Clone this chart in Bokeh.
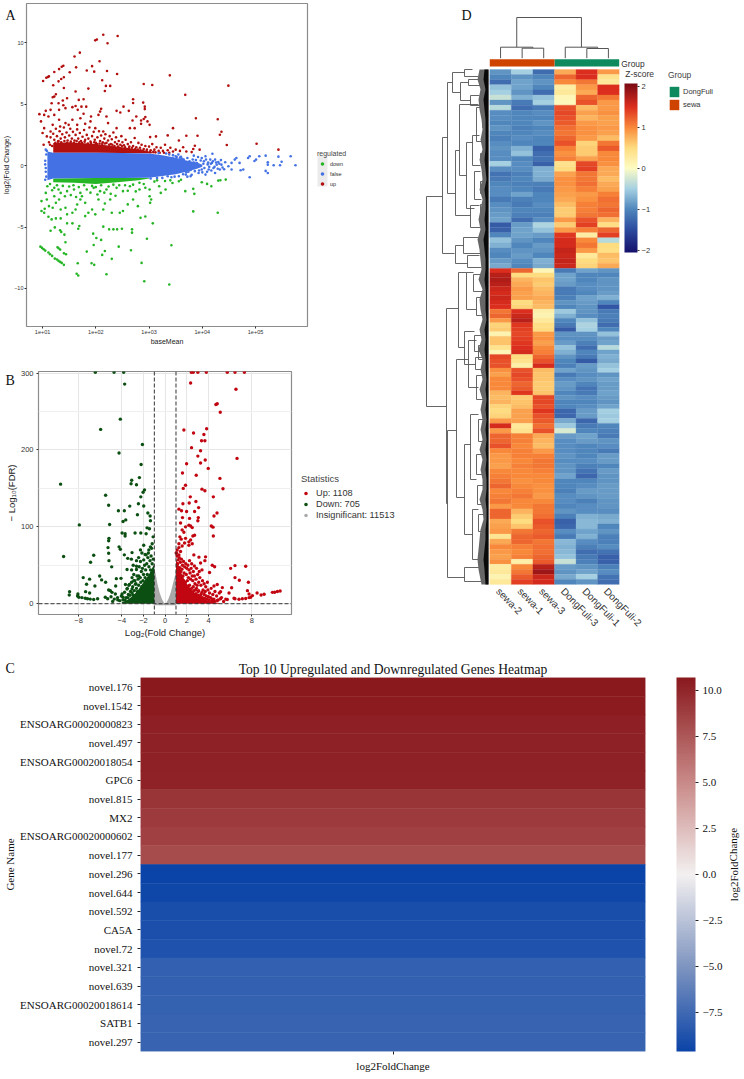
from bokeh.plotting import figure
from bokeh.layouts import column, row
from bokeh.embed import file_html
from bokeh.resources import INLINE
from bokeh.core.properties import value
from bokeh.models import (Range1d, FactorRange, FixedTicker, Legend, LegendItem, Span, Label, ColorBar,
                          LinearColorMapper, BoxAnnotation, ColumnDataSource)
from bokeh.transform import transform

# ---------- Panel A: MA plot (log10 baseMean, log2 fold change) ----------
ma_up = [(2.14,10.66),(2.02,10.27),(1.99,10.2),(2.41,10.55),(2.22,9.96),(1.70,9.2),(1.60,8.89),(2.07,8.5),(1.93,8.1),(1.83,7.75),(1.97,7.65),(2.21,7.7),(1.51,7.6),(1.63,8.0),(1.39,8.13),(1.31,7.86),(1.22,7.62),(1.36,8.05),(1.01,6.89),(1.07,7.16),(1.10,7.22),(1.12,7.27),(1.2,6.54),(1.30,6.86),(1.35,7.05),(1.40,7.2),(2.40,7.46),(3.39,7.35),(4.49,6.51),(1.86,6.27),(1.40,6.32),(1.62,6.03),(2.12,6.95),(2.19,6.49),(2.27,6.49),(2.17,6.08),(2.90,6.65),(3.06,6.57),(3.68,5.76),(1.25,5.81),(1.22,5.62),(1.19,5.57),(1.46,5.49),(1.38,5.3),(1.30,5.08),(1.39,4.92),(1.17,5.08),(1.06,4.46),(1.15,4.54),(1.68,5.35),(1.77,5.4),(1.62,4.86),(1.73,4.8),(1.82,4.8),(2.10,4.62),(2.08,4.4),(2.39,4.46),(2.46,4.32),(2.52,4.8),(2.62,4.46),(2.70,5.4),(2.70,5.1),(2.89,5.13),(2.92,4.8),(2.92,4.6),(2.69,3.67),(2.76,4.0),(2.85,3.67),(2.90,3.8),(2.93,3.95),(2.97,3.6),(3.01,3.32),(2.85,3.4),(3.88,3.86),(4.29,3.78),(0.94,4.19),(0.97,3.6),(1.03,4.13),(1.11,4.0),(1.22,4.13),(1.31,4.54),(1.43,4.68),(1.56,4.76),(1.66,4.54),(1.77,4.22),(1.91,4.0),(2.05,4.13),(2.2,4.0),(1.9,3.6),(1.8,3.4),(1.71,3.86),(1.56,3.73),(1.43,3.46),(1.31,3.73),(1.19,3.32),(1.03,3.05),(1.0,2.65),(1.08,2.38),(1.02,1.7),(1.15,2.78),(1.33,3.19),(1.49,3.32),(1.65,3.32),(1.99,3.05),(2.14,2.78),(2.23,3.46),(2.39,3.05),(2.64,3.05),(2.73,3.05),(3.45,3.05),(4.36,2.76),(4.33,2.51),(3.70,2.43),(3.91,2.43),(3.35,2.46),(5.02,1.78),(5.43,1.3),(4.46,1.68),(3.86,1.62),(3.83,1.35),(3.56,2.05),(3.02,2.32),(3.13,2.38),
(1.12,1.9),(1.15,2.3),(1.18,1.6),(1.2,2.6),(1.22,2.1),(1.25,3.0),(1.27,2.4),(1.3,2.0),(1.32,2.8),(1.34,2.2),(1.37,2.55),(1.4,3.1),(1.42,2.3),(1.45,2.7),(1.47,2.05),(1.5,2.45),(1.52,3.0),(1.55,2.2),(1.57,2.75),(1.6,2.05),(1.62,2.5),(1.65,2.95),(1.67,2.2),(1.7,2.65),(1.72,2.0),(1.75,2.35),(1.78,2.9),(1.8,2.1),(1.83,2.5),(1.86,2.2),(1.88,3.1),(1.9,1.95),(1.93,2.4),(1.96,2.75),(1.98,2.1),(2.0,1.85),(2.03,2.3),(2.06,2.8),(2.08,2.0),(2.1,2.45),(2.13,1.9),(2.16,2.2),(2.18,2.55),(2.2,1.85),(2.23,2.05),(2.26,2.4),(2.28,1.75),(2.3,2.15),(2.33,2.7),(2.36,1.9),(2.38,2.3),(2.4,1.75),(2.43,2.0),(2.46,1.7),(2.48,2.4),(2.5,1.9),(2.53,1.65),(2.56,2.1),(2.6,1.75),(2.63,1.55),(2.66,1.9),(2.7,1.6),(2.73,2.25),(2.76,1.5),(2.8,1.85),(2.83,1.45),(2.86,1.7),(2.9,1.35),(2.93,1.6),(2.96,1.3),(3.0,1.55),(3.03,1.25),(3.06,1.75),(3.1,1.3),(3.14,1.5),(3.18,1.2),(3.22,1.45),(3.26,1.2),(3.3,1.7),(3.35,1.25),(3.4,1.45),(3.45,1.15),(3.5,1.3),(3.58,1.2),(3.64,1.5),(3.7,1.15),(3.8,1.1),(3.95,1.3),
(1.14,1.7),(1.24,1.85),(1.29,1.95),(1.35,1.9),(1.41,2.0),(1.46,1.85),(1.53,1.95),(1.59,1.85),(1.64,2.0),(1.69,1.9),(1.74,1.85),(1.79,1.95),(1.85,1.8),(1.91,1.85),(1.97,1.9),(2.02,1.75),(2.07,1.8),(2.12,1.75),(2.17,1.8),(2.25,1.7),(2.31,1.7),(2.35,1.6),(2.42,1.55),(2.49,1.6),(2.55,1.5),(2.62,1.4),(2.68,1.45),(2.74,1.35),(2.79,1.3),(2.84,1.25),(2.88,1.2),(2.95,1.15),(3.02,1.1),(3.08,1.12),(3.12,1.08),(3.2,1.05),(3.28,1.05),(3.38,1.05)]
ma_down = [(0.96,-6.6),(0.99,-6.7),(1.02,-6.81),(1.05,-6.92),(1.11,-7.08),(1.14,-7.22),(1.18,-7.35),(1.23,-7.57),(1.27,-7.65),(1.3,-7.76),(1.33,-7.84),(1.36,-7.92),(1.40,-8.08),(1.28,-6.65),(1.3,-6.73),(1.33,-6.84),(1.40,-7.14),(1.44,-7.22),(1.43,-6.24),(1.66,-7.95),(1.64,-8.81),(1.67,-8.95),(1.83,-7.0),(1.92,-7.95),(1.97,-8.08),(1.96,-6.46),(2.01,-5.89),(2.1,-6.05),(1.95,-5.54),(2.17,-6.95),(2.12,-7.27),(2.3,-7.59),(2.2,-8.84),(2.43,-6.6),(2.66,-6.89),(2.86,-7.92),(2.91,-9.41),(3.38,-9.68),(3.42,-6.49),(2.96,-5.95),(3.07,-4.7),(2.68,-5.19),(2.68,-5.46),(2.49,-5.14),(2.4,-5.19),(2.33,-5.19),(2.25,-5.19),(2.14,-4.97),(1.67,-5.14),(1.69,-4.92),(1.56,-4.7),(1.46,-4.7),(1.33,-5.27),(1.35,-5.4),(1.41,-5.62),(1.23,-5.03),(1.15,-5.3),(1.11,-4.16),(1.17,-4.38),(1.25,-4.3),(1.34,-4.3),(3.83,-3.73),(4.29,-3.84),(2.84,-4.24),(2.93,-4.14),(3.83,-1.89),(3.85,-2.3),(3.68,-2.08),(4.17,-1.68),(4.3,-1.22),(4.34,-1.19),(4.44,-1.14),(3.99,-1.35),(4.09,-1.49),
(0.98,-2.89),(0.98,-3.7),(1.03,-3.84),(1.04,-3.51),(1.06,-2.22),(1.08,-2.76),(1.12,-3.3),(1.19,-3.43),(1.25,-3.03),(1.22,-2.49),(1.31,-2.76),(1.34,-3.57),(1.43,-3.43),(1.46,-3.97),(1.56,-3.84),(1.62,-3.57),(1.65,-3.16),(1.71,-2.76),(1.8,-3.03),(1.86,-3.84),(1.8,-4.11),(1.93,-3.57),(1.99,-3.97),(2.05,-2.76),(2.14,-3.57),(2.17,-3.08),(2.27,-2.76),(2.3,-3.84),(2.45,-3.84),(2.51,-3.7),(2.6,-3.16),(2.7,-2.76),(2.79,-3.3),(3.01,-2.49),(3.04,-2.76),(3.02,-3.03),(3.31,-1.95),(3.22,-2.22),(3.44,-1.41),(3.56,-1.27),(3.19,-1.68),(3.01,-1.95),(2.82,-1.95),(2.82,-1.4),(2.64,-1.68),(2.51,-2.08),(2.39,-1.81),(2.2,-1.95),(2.08,-2.08),(1.96,-1.81),(1.83,-1.95),(1.71,-2.22),(1.59,-1.95),(1.46,-2.08),(1.34,-2.22),(1.22,-1.81),(1.09,-1.68),
(1.14,-1.5),(1.18,-2.0),(1.27,-1.6),(1.3,-1.95),(1.38,-1.65),(1.42,-2.5),(1.5,-1.7),(1.53,-2.4),(1.58,-1.6),(1.63,-2.55),(1.68,-1.75),(1.74,-2.5),(1.78,-1.6),(1.9,-2.2),(1.93,-1.65),(2.0,-1.75),(2.03,-2.35),(2.1,-1.6),(2.16,-2.2),(2.24,-1.7),(2.28,-2.3),(2.33,-1.55),(2.37,-2.45),(2.44,-1.6),(2.55,-1.6),(2.6,-2.05),(2.7,-1.55),(2.75,-2.1),(2.9,-1.5),(2.93,-1.8),(3.1,-1.3),(3.15,-1.2),(3.3,-1.25),(3.4,-1.2),(3.6,-1.15)]
ma_false = [(5.75,0.03),(5.66,0.76),(5.49,0.32),(5.46,0.03),(5.43,0.73),(5.34,0.03),(5.23,0.27),(5.23,0.08),(5.19,0.81),(5.23,-0.6),(5.19,-0.43),(5.07,0.76),(5.01,0.49),(4.98,0.38),(4.89,0.76),(4.86,0.62),(4.89,-0.95),(4.77,-0.32),(4.72,-0.38),(4.7,0.22),(4.64,0.62),(4.55,0.22),(4.49,-0.05),(4.43,0.27),(4.36,0.08),(4.55,-0.32),(4.61,0.49),(4.33,-0.32),(4.24,0.49),(4.19,0.97),(4.15,0.49),(4.06,0.76),(3.99,0.62),(3.84,0.81),(3.93,-0.6),(4.06,-0.73),(4.24,-0.6),(4.18,0.22),(4.27,0.08),(4.12,-0.32),(3.99,-0.32),(3.72,0.62),(3.65,0.49),(3.78,-0.86),(3.56,-0.86),(3.69,-0.73),(3.5,0.76),(3.44,0.62),(3.35,-0.86),(3.25,-1.0),
(4.3,0.3),(4.38,-0.15),(4.21,-0.2),(4.1,0.1),(4.03,0.35),(3.92,0.7),(3.88,0.45),(3.8,-0.75),(3.72,-0.9),(3.6,0.72),(3.55,0.9),(3.45,0.85),(3.32,0.98),(3.18,1.02),(3.15,-1.0),(3.03,-1.05),(1.06,1.3),(1.07,0.9),(1.05,0.4),(1.06,-0.5),(1.05,-1.15),(1.07,-0.9),(1.08,1.2),(1.06,-0.2),(1.05,0.1),
(3.62,0.55),(3.68,0.3),(3.74,-0.5),(3.76,0.35),(3.82,0.5),(3.86,-0.45),(3.9,0.2),(3.94,-0.4),(3.97,0.42),(4.0,-0.55),(4.02,0.15),(4.04,-0.2),(4.07,0.5),(4.09,-0.5),(4.11,0.25),(4.13,-0.1),(4.16,0.15),(4.17,-0.4),(4.2,0.35),(4.23,-0.1),(4.26,0.25),(4.29,-0.25),(4.32,0.15),(4.35,0.45),(4.41,-0.3),(3.7,-0.55),(3.78,-0.35),(3.84,0.25),(3.64,-0.7),(3.58,0.65),(3.52,0.7),(3.48,-0.9),(3.42,-0.95),(3.38,0.9)]
ma_false_band_x = [1.09,1.2,1.5,2,2.5,3,3.25,3.5,3.7,3.9,4.0]
ma_false_band_top = [1.15,1.05,1.05,1.05,1.03,0.98,0.85,0.65,0.42,0.25,0.08]
ma_false_band_bot = [-1.2,-1.05,-1.03,-1.0,-1.0,-0.98,-0.85,-0.7,-0.5,-0.25,-0.1]
ma_up_band_x = [1.2,1.5,2,2.5,2.9,3.1]
ma_up_band_top = [1.85,1.9,1.75,1.5,1.25,1.05]
ma_up_band_bot = [1.05,1.05,1.05,1.03,1.0,1.0]
ma_down_band_x = [1.2,1.6,2.0,2.4,2.8,3.0]
ma_down_band_top = [-1.05,-1.03,-1.0,-1.0,-1.0,-1.0]
ma_down_band_bot = [-1.35,-1.4,-1.5,-1.35,-1.2,-1.05]
ma_x_ticks = [10,100,1000,10000,100000]
ma_x_labels = ["1e+01","1e+02","1e+03","1e+04","1e+05"]
ma_y_ticks = [-10,-5,0,5,10]

# ---------- Panel B: volcano (log2 fold change, -log10 FDR) ----------
vol_up = [(2.41,301),(2.59,301),(3.02,301),(3.8,301),(5.74,301),(6.45,301),(7.32,301),(2.35,287),(6.54,279),(4.69,259),(4.81,260),(5.09,249),(1.73,226),(3.83,227.5),(2.62,222),(3.58,220),(3.36,212),(3.67,212),(2.44,203),(3.27,199),(3.02,192),(6.64,189),(3.7,187),(3.27,183),(1.98,182),(3.98,176),(1.6,170),(2.87,167),(5.06,163),(1.88,154),(1.67,150),(3.4,149),(3.67,147),(5.34,149.6),(2.32,139),(4.45,139),(2.84,133),(1.64,130),(2.22,131),(3.09,125),(1.27,123),(1.51,121),(1.98,120),(2.72,120),(4.79,118),(4.51,114),(1.6,112),(2.25,111),(3.06,112),(3.02,108),(1.42,105),(4.26,101),(4.42,99.6),(4.45,88),(2.19,102),(2.35,101),(2.5,99),(1.88,100),(1.57,96),(1.73,93),(2.72,89),(2.56,88),(1.36,87),(1.48,84),(1.88,85),(2.35,83),(2.19,80.5),(1.79,79),(1.27,78),(1.57,75),(1.27,73),(2.19,76),(2.5,78),(1.11,70),(1.42,68),(1.02,66),(1.27,63.5),(2.65,63.5),(3.12,60.6),(3.73,61),(3.67,56),(3.27,53),(4.35,50),(4.57,48),(6.05,46),(6.45,49.6),(7.44,48.7),(4.1,40.7),(6.45,34),(6.85,30.5),(7.69,28),(4.81,25),(4.51,23),(5.28,21),(6.14,20.8),(5.12,15.7),(5.9,14),(7.6,17),(7.75,12.7),(10.62,16.5),(10.37,16),(10.12,15),(9.91,14.8),(9.14,12.3),(8.86,11.4),(8.49,14),(8.06,10.6),(7.9,8.5),(7.75,8),(7.44,6.8),(7.13,6.4),(6.82,5.9),(6.45,6.4),(6.36,7.2),(5.74,5.5),(5.12,6.4),(4.81,4.2),(4.5,4.2),
(1.1,62),(1.2,57),(1.3,60),(1.15,52),(1.4,54),(1.5,58),(1.6,50),(1.7,55),(1.35,47),(1.55,45),(1.8,48),(1.9,52),(2.0,46),(2.1,50),(1.75,40),(1.95,38),(2.2,44),(2.3,40),(2.4,46),(2.5,36),(2.6,42),(2.15,34),(2.35,32),(2.55,30),(2.7,36),(2.85,32),(3.0,38),(3.1,28),(3.2,34),(2.75,26),(2.95,24),(3.3,24),(3.45,30),(3.6,26),(3.75,22),(3.9,28),(3.5,18),(3.7,16),(3.95,18),(4.1,14),(4.25,20),(4.4,12),(4.6,16),(4.2,8),(4.5,6),(4.75,10),(4.9,5),(5.0,14),(5.2,8),(5.4,3),(5.6,6),(3.3,12),(3.05,16),(2.8,18),(2.6,22),(1.05,66),(2.9,46),(3.15,42),(3.4,44),(2.25,56),(2.45,52),(2.7,49),
(1.45,42),(1.65,36),(1.85,28),(2.05,30),(2.25,24),(2.45,20),(2.65,17),(2.85,13),(3.05,11),(3.25,9),(3.45,8),(3.65,7),(3.85,6),(4.05,5),(4.3,4),(4.55,3),(1.5,34),(1.7,30),(1.9,24),(2.1,22),(2.3,18),(2.5,15),(2.7,12),(2.9,20),(3.1,17),(3.4,15),(3.6,12),(3.8,10),(4.0,9),(4.35,6)]
vol_down = [(-9.66,155.5),(-9.38,61.4),(-7.93,102.5),(-5.96,226.7),(-4.14,240),(-4.26,196),(-3.74,285.6),(-6.45,301),(-4.72,301),(-3.83,301),(-2.1,207),(-2.22,181),(-3.09,160.6),(-3.15,156),(-2.38,164),(-2.65,154.7),(-1.91,148),(-2.04,145),(-2.25,139),(-5.5,141),(-5.22,128),(-3.27,127),(-2.47,130),(-1.98,127),(-4.32,121),(-3.77,121),(-1.6,118),(-1.39,114),(-2.56,115.7),(-1.36,108),(-3.64,109),(-3.89,107),(-5.13,103),(-3.98,92),(-3.7,91),(-3.7,88),(-2.78,92),(-2.25,92),(-1.76,91),(-1.67,98.7),(-1.45,97.5),(-5.19,85),(-5.22,82),(-5.28,73),(-5.22,65.7),(-4.26,74),(-4.14,70.8),(-3.77,63.6),(-3.46,59),(-3.06,66.5),(-3.12,58),(-6.6,63),(-6.89,54),(-4.94,48),(-5.19,56),(-7.57,34),(-6.98,32),(-7.26,25.4),(-6.49,23),(-6.05,36),(-5.87,31),(-5.5,28),(-4.51,32.6),(-4.08,33),(-4.57,23),(-5.22,17.8),(-8.83,15.7),(-8.86,11.4),(-8.06,12.7),(-8.09,10),(-7.97,8.5),(-7.69,8),(-7.38,7.2),(-7.17,6.4),(-6.92,6),(-6.6,5.5),(-6.24,6.4),(-7.35,15.7),(-6.98,14),(-5.53,8.5),(-5.31,6.4),(-5.06,17),(-4.91,14.8),(-4.6,12.7),(-3.98,12.7),(-4.38,5),(-3.89,8.5),(-3.36,24),(-2.9,30),(-2.44,36),(-2.65,44.5),(-2.28,55),(-1.98,57),(-1.76,63.6),(-1.51,70),(-1.36,74),(-1.2,78),(-1.11,87),(-1.98,76),(-2.28,70),(-2.65,56),(-2.65,48.7),(-3.52,44.5),(-3.06,34),(-3.67,25),(-3.52,19),(-3.06,19),(-2.75,25.4),
(-1.1,58),(-1.2,52),(-1.3,62),(-1.4,56),(-1.5,48),(-1.6,60),(-1.7,52),(-1.8,44),(-1.9,50),(-2.0,38),(-2.1,46),(-2.2,42),(-2.3,34),(-2.4,48),(-2.5,32),(-2.6,36),(-2.7,26),(-2.8,30),(-2.9,38),(-3.0,22),(-3.1,28),(-3.2,16),(-3.3,25),(-3.4,12),(-3.5,20),(-3.6,8),(-3.75,15),(-3.9,5),(-4.05,10),(-4.2,4),(-4.4,8),(-4.7,6),(-4.85,3),(-5.0,9),(-3.1,44),(-2.95,50),(-2.45,60),(-2.15,66),(-1.85,64),(-1.55,66),(-1.25,72),
(-1.35,44),(-1.65,38),(-1.85,34),(-2.05,30),(-2.25,28),(-2.45,24),(-2.65,20),(-2.85,17),(-3.05,14),(-3.25,11),(-3.45,8),(-3.7,5),(-1.75,30),(-2.15,22),(-2.55,16),(-2.95,11)]
vol_up_band_x = [1,1.3,1.6,2,2.5,3,3.5,4,4.5,5]
vol_up_band_top = [58,48,36,26,17,11,7,4,2,1]
vol_down_band_x = [-4,-3.5,-3,-2.5,-2,-1.5,-1]
vol_down_band_top = [2,5,10,18,28,38,52]
vol_ns_left_x = [-1,-0.9,-0.7,-0.5,-0.3,-0.1,0]
vol_ns_left_top = [46,40,25,14,6,1,0]
vol_ns_right_x = [0,0.1,0.3,0.5,0.7,0.9,1]
vol_ns_right_top = [0,1,6,14,25,36,44]
vol_ns_base = [-2,-2,-2,-2,-2,-2,-2]
vol_fc_cutoffs = [-1,1]
vol_fdr_cutoff = 0
vol_x_ticks = [-8,-4,-2,0,2,4,8]
vol_y_ticks = [0,100,200,300]
vol_y_minor = [50,150,250]

# ---------- Panel C: top genes ----------
genes = ["novel.176","novel.1542","ENSOARG00020000823","novel.497","ENSOARG00020018054","GPC6","novel.815","MX2","ENSOARG00020000602","novel.177","novel.296","novel.644","novel.592","CA5A","novel.72","novel.321","novel.639","ENSOARG00020018614","SATB1","novel.297"]
gene_lfc = [10.7,10.6,10.35,10.3,10.25,10.2,9.3,9.0,8.7,8.1,-9.6,-9.4,-9.0,-8.9,-8.8,-8.0,-7.95,-7.9,-7.85,-7.8]
lfc_ticks = [-7.5,-5.0,-2.5,0.0,2.5,5.0,7.5,10.0]
lfc_labels = ["\u22127.5","\u22125.0","\u22122.5","0.0","2.5","5.0","7.5","10.0"]
lfc_low, lfc_high = -9.6, 10.7

# ---------- Panel D: clustered heatmap, one row per band of genes ----------
samples = ["sewa-2","sewa-1","sewa-3","DongFuli-3","DongFuli-1","DongFuli-2"]
z_upper = [
(-0.9,-0.5,-1.2,0.8,1.5,0.9),(-1.0,-0.9,-1.0,1.2,1.5,0.4),(-1.2,-0.8,-0.9,1.0,1.1,0.3),(-0.6,-0.8,-1.0,0.25,0.9,1.5),(-0.5,-0.9,-1.2,0.3,0.8,1.5),(-0.3,-0.7,-0.6,0.1,1.2,1.1),(-0.9,-1.1,-0.5,0.05,1.3,0.9),
(-0.4,-1.2,-1.1,1.3,0.7,0.9),(-0.95,-1.0,-0.95,1.35,0.85,0.95),(-0.95,-1.0,-1.0,1.3,0.75,0.85),(-1.0,-1.0,-0.9,1.25,0.9,0.85),(-0.9,-1.05,-1.0,1.15,0.95,0.9),(-1.0,-1.0,-0.95,1.1,0.95,0.85),(-1.05,-0.95,-1.0,1.2,0.9,0.7),
(-0.95,-1.0,-1.0,1.3,0.55,1.1),(-0.9,-0.7,-1.3,1.05,0.6,1.25),(-0.95,-0.6,-1.2,0.95,0.6,1.0),(-0.95,-1.0,-1.15,1.05,0.85,1.0),(-0.5,-0.95,-1.3,0.4,1.35,0.95),(-0.95,-0.95,-0.7,0.5,1.4,0.8),(-1.15,-1.05,-0.7,0.85,1.1,0.8),
(-1.1,-1.0,-0.75,0.95,1.1,0.7),(-1.0,-1.05,-1.05,0.95,1.15,0.8),(-0.95,-1.0,-1.1,0.9,1.05,0.85),(-0.95,-0.8,-1.0,0.85,0.9,1.05),(-1.1,-1.05,-1.0,0.8,0.95,1.15),(-0.95,-1.1,-0.95,0.7,1.05,1.1),(-0.9,-1.0,-1.0,0.6,1.05,1.2),
(-0.85,-1.05,-1.05,0.6,1.1,1.15),(-0.8,-1.2,-0.95,0.9,1.3,0.75),(-1.35,-0.85,-0.45,0.6,1.4,0.45),(-1.3,-0.8,-0.6,0.9,1.05,1.2),(-1.0,-0.8,-0.85,1.45,0.25,1.4),(-0.6,-0.9,-1.0,1.55,1.0,-0.4),
(-0.7,-1.0,-0.85,1.55,1.1,0.5),(-0.95,-0.9,-0.9,1.65,0.9,0.45),(-1.0,-0.85,-1.0,1.6,0.3,0.7),(-0.85,-0.95,-0.7,1.65,0.5,0.65),(-0.75,-1.0,-0.75,1.6,0.55,0.8)]
z_middle = [
(1.5,1.2,0.1,-1.1,-0.8,-0.9),(1.7,0.5,0.5,-0.8,-1.0,-1.0),(1.75,0.75,0.65,-0.8,-1.0,-0.9),(1.7,0.8,0.6,-0.85,-0.95,-0.9),(1.6,0.9,0.7,-1.1,-0.95,-0.9),(1.55,0.85,0.75,-1.1,-1.0,-0.85),(1.6,0.85,0.8,-1.05,-0.8,-0.7),(1.55,0.5,0.75,-0.9,-0.85,-1.0),
(1.5,0.55,0.7,-1.0,-0.9,-1.4),(1.1,1.5,0.2,-0.55,-0.9,-1.1),(1.2,1.6,0.15,-0.7,-0.95,-1.05),(0.9,1.7,0.3,-1.0,-0.6,-1.1),(0.55,1.45,0.45,-1.1,-0.45,-1.2),(0.6,1.4,0.5,-1.35,-0.5,-1.0),(0.15,1.35,0.9,-0.9,-0.9,-0.6),(0.65,1.4,0.95,-0.95,-0.95,-0.85),
(0.65,1.45,0.85,-0.85,-1.05,-0.8),(0.4,1.5,1.0,-0.6,-1.2,-0.4),(0.1,1.55,1.05,-0.7,-1.0,-0.8),(1.35,0.5,1.2,-0.9,-1.1,-0.7),(1.3,0.4,1.3,-1.0,-1.35,-0.75),(1.3,0.2,1.55,-1.05,-0.85,-0.6),(0.95,1.3,0.7,-0.8,-0.9,-0.5),(0.85,1.35,0.65,-1.1,-0.95,-0.9),
(1.0,1.3,0.65,-0.95,-0.9,-0.8),(1.0,1.2,0.6,-0.85,-1.0,-0.85),(1.0,1.25,0.6,-0.9,-1.15,-0.85),(0.75,1.45,0.65,-1.0,-1.1,-0.8),(0.7,0.6,1.35,-0.9,-0.95,-0.85),(0.75,0.65,1.35,-1.0,-1.0,-0.9),(0.55,0.7,1.3,-1.0,-0.95,-0.8),(0.5,0.85,1.45,-1.25,-0.85,-0.5)]
z_lower = [
(0.55,0.85,1.3,-1.25,-0.85,-0.55),(0.9,0.85,1.25,-0.75,-1.25,-0.5),(1.55,0.3,1.15,-0.55,-1.1,-1.0),(0.9,0.4,1.3,-0.2,-1.0,-1.05),(1.2,1.05,0.8,-0.85,-0.8,-1.1),(1.2,1.05,0.75,-0.95,-0.85,-0.9),(1.3,1.0,0.7,-0.95,-1.0,-0.95),(1.0,1.05,0.9,-0.95,-1.0,-1.1),
(0.9,1.05,1.05,-0.9,-1.0,-0.85),(0.9,1.0,1.1,-0.95,-0.95,-0.85),(0.85,1.05,1.1,-0.9,-1.05,-1.0),(1.0,1.0,1.05,-0.9,-1.15,-0.85),(1.05,1.0,1.0,-0.8,-1.25,-0.9),(1.1,0.95,1.0,-1.0,-1.0,-0.9),(1.2,1.0,0.95,-1.0,-0.95,-0.85),(1.0,1.05,0.95,-1.05,-0.85,-0.85),
(1.05,1.1,0.9,-0.95,-0.9,-0.85),(1.1,1.0,1.0,-0.95,-1.05,-0.9),(0.9,1.0,1.1,-1.0,-0.95,-0.9),(1.2,0.75,1.1,-0.9,-0.95,-0.95),(1.2,0.6,1.15,-1.05,-0.7,-0.75),(0.8,0.5,1.3,-1.3,-0.65,-0.7),(0.85,0.65,1.25,-1.25,-0.65,-1.0),(0.9,1.1,1.2,-0.95,-0.8,-0.9),
(0.35,1.2,1.25,-1.1,-0.7,-1.05),(0.8,1.2,1.1,-0.65,-0.95,-1.05),(1.0,1.05,1.15,-0.7,-1.05,-0.95),(0.9,1.0,1.15,-0.65,-1.2,-1.15),(0.85,1.05,1.2,-0.6,-1.1,-1.3),(0.95,0.2,1.25,-0.3,-1.05,-1.3),(0.25,1.0,1.7,-0.85,-0.9,-1.05),(0.3,1.1,1.85,-0.9,-0.8,-0.95),(0.15,1.25,1.6,-0.75,-0.5,-1.15),(0.3,1.4,1.55,-1.0,-0.9,-1.2)]
band_rows_upper, band_rows_middle, band_rows_lower = 5.1, 4.53, 5.03
z_ticks = [-2,-1,0,1,2]
# row dendrogram merges: first row, second row, merge height, child heights
row_tree = [(127,337,62,46,42),(68,184,46,41,34),(13,124,41,36,33),(3,23,36,24,28),(0,7,24,16,10),(13,31,28,20,18),(10,16,20,8,6),(26,36,18,9,7),(81,146,33,29,18),(35,106,29,10,22),(73,139,22,16,14),(38,72,12,6,7),(66,96,16,9,8),(102,130,14,8,7),(112,124,8,4,4),(136,158,18,9,8),(135,145,8,4,3),(45,58,6,3,3),(84,92,8,4,3),(176,194,33,25,21),(168,184,25,10,8),(186,198,21,9,7),
(239,434,42,30,41),(203,278,30,22,24),(203,240,22,15,12),(262,295,24,14,13),(205,222,15,7,6),(228,246,12,6,5),(266,282,14,7,6),(288,300,13,6,5),(361,508,41,32,24),(290,428,32,20,24),(271,318,20,12,10),(375,465,24,18,16),(345,410,18,10,12),(440,490,16,10,9),(498,512,24,8,6),(306,330,12,6,5),(276,290,10,5,4),(350,372,10,5,5),(385,405,12,6,6),(445,462,10,5,4),(475,492,9,5,4),(416,435,11,5,6),(500,506,8,4,3),(508,514,6,3,2)]
fringe_rows = [0,10,20,30,40,50,60,70,80,90,100,110,120,130,140,150,160,170,180,190,200,210,220,230,240,250,260,270,280,290,300,310,320,330,340,350,360,370,380,390,400,410,420,430,440,450,460,470,480,490,500,515]
fringe_core = [4,5,3,5,4,3,3,3,3,4,3,2,4,3,3,4,3,5,4,3,3,4,3,3,3,2,4,3,4,3,3,2,3,2,3,2,3,2,3,2,3,2,2,3,2,2,3,3,4,5,4,3]
fringe_outer = [9,11,8,10,9,7,6,8,6,9,7,6,9,6,8,10,8,11,9,8,7,10,6,9,8,6,9,7,10,6,8,6,9,6,8,6,8,6,9,6,8,6,6,9,6,5,8,9,10,11,10,7]
# column dendrogram merges: left column, right column, merge height, child heights
col_tree = [(0.5,2.0,12.3,1.3,11.3),(1.5,2.5,11.3,1.3,1.3),(3.5,5.0,12.3,1.3,11.0),(4.5,5.5,11.0,1.3,1.3),(1.25,4.25,42.0,12.3,12.3)]


def lerp_palette(anchors, n=256):
    lo, hi = anchors[0][0], anchors[-1][0]
    out = []
    for i in range(n):
        v = lo + (hi - lo) * i / (n - 1)
        for (a, ca), (b, cb) in zip(anchors, anchors[1:]):
            if a <= v <= b:
                t = (v - a) / (b - a)
                rgb = [round(int(ca[j:j+2], 16) * (1 - t) + int(cb[j:j+2], 16) * t) for j in (1, 3, 5)]
                out.append("#%02x%02x%02x" % tuple(rgb))
                break
    return out


SANS = "Liberation Sans"
SERIF = "Liberation Serif"
DARK = "#333333"
FRAME = "#8c8c8c"
NAN = float("nan")


def letter(p, text, x, y, side=None):
    lab = Label(x=x, y=y, x_units="canvas", y_units="canvas", text=text, text_font=SERIF,
                text_font_size="14px", text_color="#111111", text_baseline="middle")
    if side:
        p.add_layout(lab, side)
    else:
        p.add_layout(lab)


def style_axes(p, size, label_size, standoff=1):
    for ax in (p.xaxis[0], p.yaxis[0]):
        ax.axis_line_color = None
        ax.major_tick_line_color = DARK
        ax.major_tick_out = 2
        ax.major_tick_in = 0
        ax.minor_tick_line_color = None
        ax.major_label_text_font = SANS
        ax.major_label_text_font_size = size
        ax.major_label_text_color = DARK
        ax.major_label_standoff = standoff
        ax.axis_label_text_font = SANS
        ax.axis_label_text_font_size = label_size
        ax.axis_label_text_font_style = "normal"
        ax.axis_label_text_color = "#222222"
        ax.axis_label_standoff = 1


def legend_fig(width, height):
    f = figure(width=width, height=height, x_range=Range1d(0, 1), y_range=Range1d(0, 1), output_backend="svg",
               toolbar_location=None, frame_align=False, min_border_left=0, min_border_right=0, min_border_top=0,
               min_border_bottom=0, x_axis_location=None, y_axis_location=None)
    f.grid.visible = False
    f.outline_line_color = None
    return f


# ---------------- A ----------------
pa = figure(width=310, height=362, x_axis_type="log", x_range=Range1d(10**0.698, 10**5.976),
            y_range=Range1d(-13.1, 13.2), output_backend="svg", toolbar_location=None, frame_align=False,
            min_border_left=22, min_border_right=3, min_border_top=3, min_border_bottom=34,
            x_axis_label="baseMean", y_axis_label="log2(Fold Change)")
pa.grid.visible = False
pa.outline_line_color = FRAME
pa.outline_line_width = 1.2
style_axes(pa, "5.5px", "7px")
pa.xaxis[0].ticker = FixedTicker(ticks=ma_x_ticks)
pa.xaxis[0].major_label_overrides = dict(zip(ma_x_ticks, ma_x_labels))
pa.yaxis[0].ticker = FixedTicker(ticks=ma_y_ticks)
AR, AB, AG = "#b20f0f", "#4472e4", "#25b525"
pow10 = lambda seq: [10 ** v for v in seq]
pa.varea(pow10(ma_up_band_x), ma_up_band_top, ma_up_band_bot, color=AR)
pa.varea(pow10(ma_down_band_x), ma_down_band_top, ma_down_band_bot, color=AG)
pa.scatter(pow10([a for a, _ in ma_up]), [b for _, b in ma_up], size=2.6, color=AR, line_color=None)
pa.scatter(pow10([a for a, _ in ma_down]), [b for _, b in ma_down], size=2.6, color=AG, line_color=None)
pa.varea(pow10(ma_false_band_x), ma_false_band_top, ma_false_band_bot, color=AB)
pa.scatter(pow10([a for a, _ in ma_false]), [b for _, b in ma_false], size=2.6, color=AB, line_color=None)
letter(pa, "A", 5, 15, "below")

la = legend_fig(115, 362)
la.add_layout(BoxAnnotation(left=7, right=17, top=155, bottom=186, left_units="canvas", right_units="canvas",
                            top_units="canvas", bottom_units="canvas", fill_color="#ebebeb", fill_alpha=1,
                            line_color=None, level="underlay"))
ka_dn = la.scatter([NAN], [NAN], size=2.6, color=AG, line_color=None)
ka_fa = la.scatter([NAN], [NAN], size=2.6, color=AB, line_color=None)
ka_up = la.scatter([NAN], [NAN], size=2.6, color=AR, line_color=None)
la.add_layout(Legend(items=[LegendItem(label="down", renderers=[ka_dn]), LegendItem(label="false", renderers=[ka_fa]),
                            LegendItem(label="up", renderers=[ka_up])],
                     location=(7, 174), title="regulated", title_text_font=SANS, title_text_font_size="7px",
                     title_text_font_style="normal", title_standoff=2, label_text_font=SANS,
                     label_text_font_size="5.5px", label_text_color=DARK, glyph_width=10, glyph_height=9,
                     label_height=9, label_standoff=3, spacing=1, padding=0, margin=0, background_fill_alpha=0,
                     border_line_color=None))

# ---------------- B ----------------
pb = figure(width=294, height=293, x_range=Range1d(-11.7, 11.67), y_range=Range1d(-14, 302),
            output_backend="svg", toolbar_location=None, frame_align=False, min_border_left=38, min_border_right=3,
            min_border_top=9, min_border_bottom=36, x_axis_label="Log\u2082(Fold Change)",
            y_axis_label="\u2212 Log\u2081\u2080(FDR)")
pb.outline_line_color = FRAME
pb.outline_line_width = 1.2
style_axes(pb, "7.5px", "9.5px")
pb.xaxis[0].ticker = FixedTicker(ticks=vol_x_ticks)
pb.yaxis[0].ticker = FixedTicker(ticks=vol_y_ticks, minor_ticks=vol_y_minor)
pb.xgrid[0].grid_line_color = "#e6e6e6"
pb.ygrid[0].grid_line_color = "#e6e6e6"
pb.ygrid[0].minor_grid_line_color = "#efefef"
BR, BG, BN = "#c20611", "#0c4f12", "#a9a9a9"
pb.varea(vol_ns_left_x, vol_ns_left_top, vol_ns_base, color=BN)
pb.varea(vol_ns_right_x, vol_ns_right_top, vol_ns_base, color=BN)
pb.varea(vol_up_band_x, vol_up_band_top, [0] * len(vol_up_band_x), color=BR)
pb.varea(vol_down_band_x, vol_down_band_top, [0] * len(vol_down_band_x), color=BG)
pb.scatter([a for a, _ in vol_up], [b for _, b in vol_up], size=3.4, color=BR, line_color=None)
pb.scatter([a for a, _ in vol_down], [b for _, b in vol_down], size=3.4, color=BG, line_color=None)
for v in vol_fc_cutoffs:
    pb.add_layout(Span(location=v, dimension="height", line_color="#333333", line_dash="4 2", line_width=1))
pb.add_layout(Span(location=vol_fdr_cutoff, dimension="width", line_color="#333333", line_dash="4 2", line_width=1))
letter(pb, "B", 5, 18, "below")

lb = legend_fig(131, 293)
kb_up = lb.scatter([NAN], [NAN], size=3.6, color=BR, line_color=None)
kb_dn = lb.scatter([NAN], [NAN], size=3.6, color=BG, line_color=None)
kb_ns = lb.scatter([NAN], [NAN], size=3.6, color=BN, line_color=None)
lb.add_layout(Legend(items=[LegendItem(label="Up: 1108", renderers=[kb_up]), LegendItem(label="Down: 705", renderers=[kb_dn]),
                            LegendItem(label="Insignificant: 11513", renderers=[kb_ns])],
                     location=(7, 135), title="Statistics", title_text_font=SANS, title_text_font_size="9.5px",
                     title_text_font_style="normal", title_standoff=4, label_text_font=SANS,
                     label_text_font_size="9.2px", label_text_color=DARK, glyph_width=9, glyph_height=10,
                     label_height=10, label_standoff=6, spacing=1, padding=0, margin=0, background_fill_alpha=0,
                     border_line_color=None))

# ---------------- C ----------------
lfc_map = LinearColorMapper(low=lfc_low, high=lfc_high, palette=lerp_palette(
    [(lfc_low, "#0b44a8"), (-5.0, "#7f95c0"), (0.0, "#f3f0f0"), (5.0, "#c98a88"), (lfc_high, "#8a191e")]))
pc = figure(width=744, height=424, x_range=FactorRange("log2FoldChange"), y_range=FactorRange(*reversed(genes)),
            output_backend="svg", toolbar_location=None, frame_align=False, min_border_left=140, min_border_right=99,
            min_border_top=22, min_border_bottom=28, y_axis_label="Gene Name",
            title="Top 10 Upregulated and Downregulated Genes Heatmap")
pc.title.align = "center"
pc.title.text_font = SERIF
pc.title.text_font_size = "13.6px"
pc.title.text_font_style = "normal"
pc.title.text_color = "#111111"
pc.title.standoff = 2
pc.grid.visible = False
pc.outline_line_color = None
src_c = ColumnDataSource(dict(x=["log2FoldChange"] * len(genes), y=genes, v=gene_lfc))
pc.rect("x", "y", width=1, height=1, source=src_c, fill_color=transform("v", lfc_map),
        line_color=transform("v", lfc_map), line_width=0.5)
for ax in (pc.xaxis[0], pc.yaxis[0]):
    ax.axis_line_color = None
    ax.major_tick_line_color = "#222222"
    ax.major_tick_out = 3
    ax.major_tick_in = 0
    ax.minor_tick_line_color = None
    ax.major_label_text_font = SERIF
    ax.major_label_text_font_size = "11px"
    ax.major_label_text_color = "#111111"
    ax.major_label_standoff = 5
    ax.axis_label_text_font = SERIF
    ax.axis_label_text_font_size = "11px"
    ax.axis_label_text_font_style = "normal"
    ax.axis_label_text_color = "#111111"
    ax.axis_label_standoff = 1
cb_c = ColorBar(color_mapper=lfc_map, location=(536, 0), width=19, height=374, padding=0, margin=0,
                ticker=FixedTicker(ticks=lfc_ticks), major_label_overrides=dict(zip(lfc_ticks, lfc_labels)),
                major_label_text_font=SERIF, major_label_text_font_size="11px", major_label_text_color="#111111",
                major_tick_line_color="#222222", major_tick_in=0, major_tick_out=3, label_standoff=4,
                bar_line_color=None, background_fill_alpha=0, border_line_color=None)
pc.add_layout(cb_c)
pc.add_layout(Label(x=733, y=209, x_units="canvas", y_units="canvas", text="log2FoldChange", angle=1.5708,
                    angle_units="rad", text_font=SERIF, text_font_size="11px", text_color="#111111",
                    text_align="center", text_baseline="middle"), "right")
letter(pc, "C", 5, 13, "right")

# ---------------- D ----------------
pd_ = figure(width=319, height=655, x_range=Range1d(-2.98, 11.81), y_range=Range1d(586, -69),
             output_backend="svg", toolbar_location=None, frame_align=False, min_border_left=0, min_border_right=0,
             min_border_top=0, min_border_bottom=0, x_axis_location=None, y_axis_location=None)
pd_.grid.visible = False
pd_.outline_line_color = None
pd_.extra_x_ranges = {"rowtree": Range1d(63, -256)}
pd_.extra_y_ranges = {"coltree": Range1d(-596, 59)}
z_map = LinearColorMapper(low=-2.05, high=2.07, palette=lerp_palette(
    [(-2.05, "#15116b"), (-1.5, "#2b4a9f"), (-1.0, "#4f86bc"), (-0.5, "#a5d0e2"), (0.0, "#fdfcc4"),
     (0.5, "#fedc80"), (1.0, "#f98a3a"), (1.5, "#dd2e1e"), (2.07, "#7a0a14")]))
left, right, top, bottom, vals = [], [], [], [], []
edge = 0.0
for block, h in ((z_upper, band_rows_upper), (z_middle, band_rows_middle), (z_lower, band_rows_lower)):
    for band in block:
        for j, v in enumerate(band):
            left.append(j); right.append(j + 1); top.append(edge); bottom.append(edge + h); vals.append(v)
        edge += h
src_d = ColumnDataSource(dict(left=left, right=right, top=top, bottom=bottom, v=vals))
pd_.quad("left", "right", "top", "bottom", source=src_d, fill_color=transform("v", z_map),
         line_color=transform("v", z_map), line_width=0.3)
# group annotation bar
r_df = pd_.quad([3], [6], [0.3], [-7], y_range_name="coltree", fill_color="#0e8a5f", line_color=None)
r_se = pd_.quad([0], [3], [0.3], [-7], y_range_name="coltree", fill_color="#cf4300", line_color=None)
# dendrograms
pd_.multi_line([[ha, h, h, hb] for a, b, h, ha, hb in row_tree], [[a, a, b, b] for a, b, h, ha, hb in row_tree],
               x_range_name="rowtree", line_color="#555555", line_width=0.9)
pd_.harea([0] * len(fringe_rows), fringe_outer, fringe_rows, x_range_name="rowtree", color="#666666")
pd_.harea([0] * len(fringe_rows), fringe_core, fringe_rows, x_range_name="rowtree", color="#0a0a0a")
pd_.multi_line([[a, a, b, b] for a, b, h, ha, hb in col_tree], [[ha, h, h, hb] for a, b, h, ha, hb in col_tree],
               y_range_name="coltree", line_color="#555555", line_width=1)
# sample labels
pd_.text([j + 0.38 for j in range(6)], [520] * 6, text=samples, angle=-0.8, text_font=value(SANS),
         text_font_size="10px", text_color=DARK, text_align="left", text_baseline="middle")
pd_.text([6.1], [-6], text=["Group"], text_font=value(SANS), text_font_size="8.4px", text_color=DARK,
         text_align="left", text_baseline="middle")
pd_.text([6.28], [4], text=["Z-score"], text_font=value(SANS), text_font_size="8.5px", text_color=DARK,
         text_align="left", text_baseline="middle")
cb_d = ColorBar(color_mapper=z_map, location=(199, 403), width=13, height=169, padding=0, margin=0,
                ticker=FixedTicker(ticks=z_ticks), major_label_text_font=SANS, major_label_text_font_size="7.5px",
                major_label_text_color=DARK, major_tick_line_color=DARK, major_tick_in=0, major_tick_out=2,
                label_standoff=2, bar_line_color=None, background_fill_alpha=0, border_line_color=None)
pd_.add_layout(cb_d)
legd = Legend(items=[LegendItem(label="DongFuli", renderers=[r_df]), LegendItem(label="sewa", renderers=[r_se])],
              location=(243, 544), title="Group", title_text_font=SANS, title_text_font_size="8.4px",
              title_text_font_style="normal", title_standoff=5, label_text_font=SANS, label_text_font_size="7.5px",
              label_text_color=DARK, glyph_width=12, glyph_height=13, label_height=13, label_standoff=3, spacing=0,
              padding=0, margin=0, background_fill_alpha=0, border_line_color=None)
pd_.add_layout(legd)
letter(pd_, "D", 36, 15)

left_col = column(row(pa, la, spacing=0), row(pb, lb, spacing=0), spacing=0)
root = column(row(left_col, pd_, spacing=0), pc, spacing=0)
open("out.html", "w").write(file_html(root, INLINE))
